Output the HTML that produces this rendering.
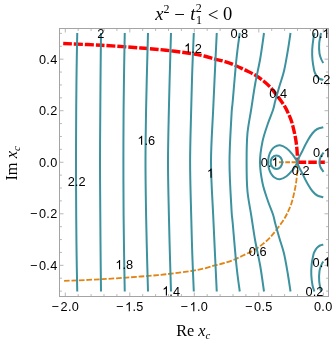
<!DOCTYPE html>
<html><head><meta charset="utf-8"><title>plot</title><style>html,body{margin:0;padding:0;background:#fff}svg{display:block;will-change:transform;transform:translateZ(0)}</style></head><body>
<svg width="332" height="345" viewBox="0 0 332 345">
<rect width="332" height="345" fill="#fff"/>
<path d="M64.10,280.95 C70.42,280.66 89.18,279.94 102.00,279.20 C114.82,278.46 130.33,277.32 141.00,276.50 C151.67,275.68 157.67,275.17 166.00,274.25 C174.33,273.33 184.67,271.96 191.00,271.00 C197.33,270.04 200.00,269.43 204.00,268.50 C208.00,267.57 211.52,266.33 215.00,265.40 C218.48,264.47 221.58,263.92 224.90,262.90 C228.22,261.88 231.58,260.68 234.90,259.30 C238.22,257.92 241.50,256.20 244.80,254.60 C248.10,253.00 251.67,251.48 254.70,249.70 C257.73,247.92 260.53,245.83 263.00,243.90 C265.47,241.97 267.67,239.93 269.50,238.10 C271.33,236.27 272.25,235.08 274.00,232.90 C275.75,230.72 278.18,227.52 280.00,225.00 C281.82,222.48 283.48,220.20 284.90,217.80 C286.32,215.40 287.42,212.98 288.50,210.60 C289.58,208.22 290.53,206.12 291.40,203.50 C292.27,200.88 292.98,197.95 293.70,194.90 C294.42,191.85 295.17,188.42 295.70,185.20 C296.23,181.98 296.60,178.80 296.90,175.60 C297.20,172.40 297.37,168.22 297.50,166.00 C297.63,163.78 297.67,162.88 297.70,162.25" fill="none" stroke="#e18414" stroke-width="1.8" stroke-dasharray="5.6 1.85"/>
<path d="M279,162.25 H297.70" fill="none" stroke="#e18414" stroke-width="1.8" stroke-dasharray="4.7 1.6"/>
<path d="M63.20,43.50 C69.67,43.80 89.03,44.55 102.00,45.30 C114.97,46.05 130.33,47.17 141.00,48.00 C151.67,48.83 157.67,49.33 166.00,50.25 C174.33,51.17 184.67,52.54 191.00,53.50 C197.33,54.46 200.00,55.07 204.00,56.00 C208.00,56.93 211.52,58.17 215.00,59.10 C218.48,60.03 221.58,60.58 224.90,61.60 C228.22,62.62 231.58,63.82 234.90,65.20 C238.22,66.58 241.50,68.30 244.80,69.90 C248.10,71.50 251.67,73.02 254.70,74.80 C257.73,76.58 260.53,78.67 263.00,80.60 C265.47,82.53 267.67,84.57 269.50,86.40 C271.33,88.23 272.25,89.42 274.00,91.60 C275.75,93.78 278.18,96.98 280.00,99.50 C281.82,102.02 283.48,104.30 284.90,106.70 C286.32,109.10 287.42,111.52 288.50,113.90 C289.58,116.28 290.53,118.38 291.40,121.00 C292.27,123.62 292.98,126.55 293.70,129.60 C294.42,132.65 295.17,136.08 295.70,139.30 C296.23,142.52 296.60,145.70 296.90,148.90 C297.20,152.10 297.37,156.28 297.50,158.50 C297.63,160.72 297.67,161.62 297.70,162.25" fill="none" stroke="#ff0000" stroke-width="3.4" stroke-dasharray="8.9 1.95"/>
<path d="M297.70,162.25 H324.9" fill="none" stroke="#ff0000" stroke-width="3.4" stroke-dasharray="8.5 2.1"/>
<g fill="none" stroke="#3c929e" stroke-width="2" stroke-linecap="butt" stroke-linejoin="round">
<path d="M77.25,33.00 C77.14,39.17 76.77,57.33 76.60,70.00 C76.42,82.67 76.30,93.62 76.20,109.00 C76.10,124.38 76.00,144.50 76.00,162.25 C76.00,180.00 76.10,200.12 76.20,215.50 C76.30,230.88 76.42,241.83 76.60,254.50 C76.77,267.17 77.14,285.33 77.25,291.50"/>
<path d="M101.00,33.00 C100.93,39.17 100.72,57.33 100.60,70.00 C100.48,82.67 100.40,93.62 100.30,109.00 C100.20,124.38 100.00,144.50 100.00,162.25 C100.00,180.00 100.20,200.12 100.30,215.50 C100.40,230.88 100.48,241.83 100.60,254.50 C100.72,267.17 100.93,285.33 101.00,291.50"/>
<path d="M124.75,33.00 C124.64,39.17 124.29,57.33 124.10,70.00 C123.91,82.67 123.72,93.62 123.60,109.00 C123.48,124.38 123.40,144.50 123.40,162.25 C123.40,180.00 123.48,200.12 123.60,215.50 C123.72,230.88 123.91,241.83 124.10,254.50 C124.29,267.17 124.64,285.33 124.75,291.50"/>
<path d="M148.00,33.00 C147.83,39.17 147.32,57.33 147.00,70.00 C146.68,82.67 146.35,93.62 146.10,109.00 C145.85,124.38 145.50,144.50 145.50,162.25 C145.50,180.00 145.85,200.12 146.10,215.50 C146.35,230.88 146.68,241.83 147.00,254.50 C147.32,267.17 147.83,285.33 148.00,291.50"/>
<path d="M171.00,33.00 C170.82,39.17 170.25,57.33 169.90,70.00 C169.55,82.67 169.22,93.62 168.90,109.00 C168.58,124.38 168.00,144.50 168.00,162.25 C168.00,180.00 168.58,200.12 168.90,215.50 C169.22,230.88 169.55,241.83 169.90,254.50 C170.25,267.17 170.82,285.33 171.00,291.50"/>
<path d="M193.80,33.00 C193.55,39.17 192.73,57.33 192.30,70.00 C191.87,82.67 191.57,93.62 191.20,109.00 C190.83,124.38 190.10,144.50 190.10,162.25 C190.10,180.00 190.83,200.12 191.20,215.50 C191.57,230.88 191.87,241.83 192.30,254.50 C192.73,267.17 193.55,285.33 193.80,291.50"/>
<path d="M216.75,33.00 C216.46,39.17 215.59,57.33 215.00,70.00 C214.41,82.67 213.87,93.62 213.20,109.00 C212.53,124.38 211.00,144.50 211.00,162.25 C211.00,180.00 212.53,200.12 213.20,215.50 C213.87,230.88 214.41,241.83 215.00,254.50 C215.59,267.17 216.46,285.33 216.75,291.50"/>
<path d="M239.75,33.00 C239.21,37.25 237.67,47.17 236.50,58.50 C235.33,69.83 233.58,91.58 232.75,101.00 C231.92,110.42 232.04,104.79 231.50,115.00 C230.96,125.21 229.50,146.50 229.50,162.25 C229.50,178.00 230.96,199.29 231.50,209.50 C232.04,219.71 231.92,214.08 232.75,223.50 C233.58,232.92 235.33,254.67 236.50,266.00 C237.67,277.33 239.21,287.25 239.75,291.50"/>
<path d="M264.00,33.00 C263.38,37.25 261.71,50.08 260.25,58.50 C258.79,66.92 256.75,75.08 255.25,83.50 C253.75,91.92 252.56,100.58 251.25,109.00 C249.94,117.42 248.18,125.12 247.40,134.00 C246.62,142.88 246.60,152.83 246.60,162.25 C246.60,171.67 246.62,181.62 247.40,190.50 C248.18,199.38 249.94,207.08 251.25,215.50 C252.56,223.92 253.75,232.58 255.25,241.00 C256.75,249.42 258.79,257.58 260.25,266.00 C261.71,274.42 263.38,287.25 264.00,291.50"/>
<path d="M290.50,33.00 C290.04,36.00 288.83,44.67 287.75,51.00 C286.67,57.33 285.38,65.17 284.00,71.00 C282.62,76.83 280.96,81.00 279.50,86.00 C278.04,91.00 276.33,97.00 275.25,101.00 C274.17,105.00 274.25,106.17 273.00,110.00 C271.75,113.83 269.50,118.75 267.75,124.00 C266.00,129.25 263.79,135.12 262.50,141.50 C261.21,147.88 260.00,155.33 260.00,162.25 C260.00,169.17 261.21,176.62 262.50,183.00 C263.79,189.38 266.00,195.25 267.75,200.50 C269.50,205.75 271.75,210.67 273.00,214.50 C274.25,218.33 274.17,219.50 275.25,223.50 C276.33,227.50 278.04,233.50 279.50,238.50 C280.96,243.50 282.62,247.67 284.00,253.50 C285.38,259.33 286.67,267.17 287.75,273.50 C288.83,279.83 290.04,288.50 290.50,291.50"/>
<path d="M297.70,162.25 C297.43,161.82 296.97,161.02 296.10,159.70 C295.23,158.38 294.10,156.21 292.50,154.30 C290.90,152.39 288.60,149.76 286.50,148.25 C284.40,146.74 281.90,145.46 279.90,145.25 C277.90,145.04 276.02,145.99 274.50,147.00 C272.98,148.01 271.77,149.68 270.80,151.30 C269.83,152.92 269.13,154.88 268.70,156.70 C268.27,158.52 268.20,160.40 268.20,162.25 C268.20,164.10 268.27,165.98 268.70,167.80 C269.13,169.62 269.83,171.58 270.80,173.20 C271.77,174.82 272.98,176.49 274.50,177.50 C276.02,178.51 277.90,179.46 279.90,179.25 C281.90,179.04 284.40,177.76 286.50,176.25 C288.60,174.74 290.90,172.11 292.50,170.20 C294.10,168.29 295.23,166.12 296.10,164.80 C296.97,163.48 297.43,162.68 297.70,162.25"/>
<path d="M323.30,127.30 C322.30,127.58 319.10,128.01 317.30,129.00 C315.50,129.99 314.10,131.33 312.50,133.25 C310.90,135.17 309.32,137.69 307.70,140.50 C306.08,143.31 304.47,146.47 302.80,150.10 C301.13,153.72 297.70,158.20 297.70,162.25 C297.70,166.30 301.13,170.78 302.80,174.40 C304.47,178.03 306.08,181.19 307.70,184.00 C309.32,186.81 310.90,189.33 312.50,191.25 C314.10,193.17 315.50,194.51 317.30,195.50 C319.10,196.49 322.30,196.92 323.30,197.20"/>
<path d="M270.60,162.25 a5.85,6.75 0 1,0 11.70,0 a5.85,6.75 0 1,0 -11.70,0Z"/>
<path d="M323.60,152.60 C323.10,153.33 321.28,155.39 320.60,157.00 C319.92,158.61 319.50,160.50 319.50,162.25 C319.50,164.00 319.92,165.89 320.60,167.50 C321.28,169.11 323.10,171.17 323.60,171.90"/>
<path d="M314.60,33.00 C314.38,34.05 313.70,36.52 313.30,39.30 C312.90,42.08 312.33,46.22 312.20,49.70 C312.07,53.18 312.20,56.87 312.50,60.20 C312.80,63.53 313.58,67.57 314.00,69.70 C314.42,71.83 314.48,71.83 315.00,73.00 C315.52,74.17 316.27,75.70 317.10,76.70 C317.93,77.70 318.97,78.47 320.00,79.00 C321.03,79.53 322.75,79.75 323.30,79.90"/>
<path d="M314.40,291.50 C314.08,290.45 313.02,287.98 312.50,285.20 C311.98,282.42 311.44,278.28 311.30,274.80 C311.16,271.32 311.30,267.63 311.65,264.30 C312.00,260.97 312.91,256.93 313.40,254.80 C313.89,252.67 314.02,252.67 314.60,251.50 C315.18,250.33 316.00,248.80 316.90,247.80 C317.80,246.80 318.93,246.03 320.00,245.50 C321.07,244.97 322.75,244.75 323.30,244.60"/>
<path d="M321.00,33.00 C320.70,34.75 319.45,40.08 319.20,43.50 C318.95,46.92 319.12,50.79 319.50,53.50 C319.88,56.21 320.87,58.17 321.50,59.75 C322.13,61.33 323.00,62.46 323.30,63.00"/>
<path d="M321.00,291.50 C320.70,289.75 319.45,284.42 319.20,281.00 C318.95,277.58 319.12,273.71 319.50,271.00 C319.88,268.29 320.87,266.33 321.50,264.75 C322.13,263.17 323.00,262.04 323.30,261.50"/>
</g>
<path d="M65.30,296.5v-4.0M65.30,28.5v4.0M78.20,296.5v-2.4M78.20,28.5v2.4M91.10,296.5v-2.4M91.10,28.5v2.4M104.00,296.5v-2.4M104.00,28.5v2.4M116.90,296.5v-2.4M116.90,28.5v2.4M129.80,296.5v-4.0M129.80,28.5v4.0M142.70,296.5v-2.4M142.70,28.5v2.4M155.60,296.5v-2.4M155.60,28.5v2.4M168.50,296.5v-2.4M168.50,28.5v2.4M181.40,296.5v-2.4M181.40,28.5v2.4M194.30,296.5v-4.0M194.30,28.5v4.0M207.20,296.5v-2.4M207.20,28.5v2.4M220.10,296.5v-2.4M220.10,28.5v2.4M233.00,296.5v-2.4M233.00,28.5v2.4M245.90,296.5v-2.4M245.90,28.5v2.4M258.80,296.5v-4.0M258.80,28.5v4.0M271.70,296.5v-2.4M271.70,28.5v2.4M284.60,296.5v-2.4M284.60,28.5v2.4M297.50,296.5v-2.4M297.50,28.5v2.4M310.40,296.5v-2.4M310.40,28.5v2.4M323.30,296.5v-4.0M323.30,28.5v4.0M59.5,291.10h2.4M328.5,291.10h-2.4M59.5,278.22h2.4M328.5,278.22h-2.4M59.5,265.33h4.0M328.5,265.33h-4.0M59.5,252.44h2.4M328.5,252.44h-2.4M59.5,239.56h2.4M328.5,239.56h-2.4M59.5,226.68h2.4M328.5,226.68h-2.4M59.5,213.79h4.0M328.5,213.79h-4.0M59.5,200.91h2.4M328.5,200.91h-2.4M59.5,188.02h2.4M328.5,188.02h-2.4M59.5,175.13h2.4M328.5,175.13h-2.4M59.5,162.25h4.0M328.5,162.25h-4.0M59.5,149.37h2.4M328.5,149.37h-2.4M59.5,136.48h2.4M328.5,136.48h-2.4M59.5,123.59h2.4M328.5,123.59h-2.4M59.5,110.71h4.0M328.5,110.71h-4.0M59.5,97.83h2.4M328.5,97.83h-2.4M59.5,84.94h2.4M328.5,84.94h-2.4M59.5,72.06h2.4M328.5,72.06h-2.4M59.5,59.17h4.0M328.5,59.17h-4.0M59.5,46.28h2.4M328.5,46.28h-2.4M59.5,33.40h2.4M328.5,33.40h-2.4" fill="none" stroke="#a4a4a4" stroke-width="0.8"/>
<rect x="59.5" y="28.5" width="269.0" height="268.0" fill="none" stroke="#a4a4a4" stroke-width="1"/>
<g font-family="Liberation Sans, sans-serif" fill="#000">
<text x="51.60" y="311.20" font-size="12.7">−</text>
<text x="60.62" y="311.20" font-size="12.7">2</text>
<text x="67.98" y="311.20" font-size="12.7">.</text>
<text x="71.81" y="311.20" font-size="12.7">0</text>
<text x="116.10" y="311.20" font-size="12.7">−</text>
<path d="M763,0H583V1147Q518,1085 412.5,1023Q307,961 223,930V1104Q374,1175 487,1276Q600,1377 647,1472H763Z" transform="translate(125.12,311.20) scale(0.00620,-0.00620)"/>
<text x="132.48" y="311.20" font-size="12.7">.</text>
<text x="136.31" y="311.20" font-size="12.7">5</text>
<text x="180.60" y="311.20" font-size="12.7">−</text>
<path d="M763,0H583V1147Q518,1085 412.5,1023Q307,961 223,930V1104Q374,1175 487,1276Q600,1377 647,1472H763Z" transform="translate(189.62,311.20) scale(0.00620,-0.00620)"/>
<text x="196.98" y="311.20" font-size="12.7">.</text>
<text x="200.81" y="311.20" font-size="12.7">0</text>
<text x="245.10" y="311.20" font-size="12.7">−</text>
<text x="254.12" y="311.20" font-size="12.7">0</text>
<text x="261.48" y="311.20" font-size="12.7">.</text>
<text x="265.31" y="311.20" font-size="12.7">5</text>
<text x="314.00" y="311.20" font-size="12.7">0</text>
<text x="321.36" y="311.20" font-size="12.7">.</text>
<text x="325.19" y="311.20" font-size="12.7">0</text>
<text x="38.95" y="63.87" font-size="12.7">0</text>
<text x="46.31" y="63.87" font-size="12.7">.</text>
<text x="50.14" y="63.87" font-size="12.7">4</text>
<text x="38.95" y="115.41" font-size="12.7">0</text>
<text x="46.31" y="115.41" font-size="12.7">.</text>
<text x="50.14" y="115.41" font-size="12.7">2</text>
<text x="38.95" y="166.95" font-size="12.7">0</text>
<text x="46.31" y="166.95" font-size="12.7">.</text>
<text x="50.14" y="166.95" font-size="12.7">0</text>
<text x="29.93" y="218.49" font-size="12.7">−</text>
<text x="38.95" y="218.49" font-size="12.7">0</text>
<text x="46.31" y="218.49" font-size="12.7">.</text>
<text x="50.14" y="218.49" font-size="12.7">2</text>
<text x="29.93" y="270.03" font-size="12.7">−</text>
<text x="38.95" y="270.03" font-size="12.7">0</text>
<text x="46.31" y="270.03" font-size="12.7">.</text>
<text x="50.14" y="270.03" font-size="12.7">4</text>
</g>
<g font-family="Liberation Sans, sans-serif" fill="#000">
<text x="97.34" y="38.25" font-size="12.8">2</text>
<path d="M763,0H583V1147Q518,1085 412.5,1023Q307,961 223,930V1104Q374,1175 487,1276Q600,1377 647,1472H763Z" transform="translate(184.10,52.55) scale(0.00625,-0.00625)"/>
<text x="191.22" y="52.55" font-size="12.8">.</text>
<text x="194.78" y="52.55" font-size="12.8">2</text>
<text x="230.40" y="37.65" font-size="12.8">0</text>
<text x="237.52" y="37.65" font-size="12.8">.</text>
<text x="241.08" y="37.65" font-size="12.8">8</text>
<text x="311.80" y="37.95" font-size="12.8">0</text>
<text x="318.92" y="37.95" font-size="12.8">.</text>
<path d="M763,0H583V1147Q518,1085 412.5,1023Q307,961 223,930V1104Q374,1175 487,1276Q600,1377 647,1472H763Z" transform="translate(322.48,37.95) scale(0.00625,-0.00625)"/>
<text x="312.60" y="83.75" font-size="12.8">0</text>
<text x="319.72" y="83.75" font-size="12.8">.</text>
<text x="323.28" y="83.75" font-size="12.8">2</text>
<text x="269.20" y="98.05" font-size="12.8">0</text>
<text x="276.32" y="98.05" font-size="12.8">.</text>
<text x="279.88" y="98.05" font-size="12.8">4</text>
<path d="M763,0H583V1147Q518,1085 412.5,1023Q307,961 223,930V1104Q374,1175 487,1276Q600,1377 647,1472H763Z" transform="translate(137.40,144.85) scale(0.00625,-0.00625)"/>
<text x="144.52" y="144.85" font-size="12.8">.</text>
<text x="148.08" y="144.85" font-size="12.8">6</text>
<path d="M763,0H583V1147Q518,1085 412.5,1023Q307,961 223,930V1104Q374,1175 487,1276Q600,1377 647,1472H763Z" transform="translate(206.84,177.75) scale(0.00625,-0.00625)"/>
<text x="67.70" y="185.75" font-size="12.8">2</text>
<text x="74.82" y="185.75" font-size="12.8">.</text>
<text x="78.38" y="185.75" font-size="12.8">2</text>
<text x="260.80" y="166.55" font-size="12.8">0</text>
<text x="267.92" y="166.55" font-size="12.8">.</text>
<path d="M763,0H583V1147Q518,1085 412.5,1023Q307,961 223,930V1104Q374,1175 487,1276Q600,1377 647,1472H763Z" transform="translate(271.48,166.55) scale(0.00625,-0.00625)"/>
<text x="291.80" y="174.75" font-size="12.8">0</text>
<text x="298.92" y="174.75" font-size="12.8">.</text>
<text x="302.48" y="174.75" font-size="12.8">2</text>
<text x="313.00" y="157.25" font-size="12.8">0</text>
<text x="320.12" y="157.25" font-size="12.8">.</text>
<path d="M763,0H583V1147Q518,1085 412.5,1023Q307,961 223,930V1104Q374,1175 487,1276Q600,1377 647,1472H763Z" transform="translate(323.68,157.25) scale(0.00625,-0.00625)"/>
<path d="M763,0H583V1147Q518,1085 412.5,1023Q307,961 223,930V1104Q374,1175 487,1276Q600,1377 647,1472H763Z" transform="translate(115.35,269.15) scale(0.00625,-0.00625)"/>
<text x="122.47" y="269.15" font-size="12.8">.</text>
<text x="126.03" y="269.15" font-size="12.8">8</text>
<path d="M763,0H583V1147Q518,1085 412.5,1023Q307,961 223,930V1104Q374,1175 487,1276Q600,1377 647,1472H763Z" transform="translate(162.20,295.55) scale(0.00625,-0.00625)"/>
<text x="169.32" y="295.55" font-size="12.8">.</text>
<text x="172.88" y="295.55" font-size="12.8">4</text>
<text x="248.85" y="256.05" font-size="12.8">0</text>
<text x="255.97" y="256.05" font-size="12.8">.</text>
<text x="259.53" y="256.05" font-size="12.8">6</text>
<text x="312.60" y="266.55" font-size="12.8">0</text>
<text x="319.72" y="266.55" font-size="12.8">.</text>
<path d="M763,0H583V1147Q518,1085 412.5,1023Q307,961 223,930V1104Q374,1175 487,1276Q600,1377 647,1472H763Z" transform="translate(323.28,266.55) scale(0.00625,-0.00625)"/>
<text x="305.60" y="295.55" font-size="12.8">0</text>
<text x="312.72" y="295.55" font-size="12.8">.</text>
<text x="316.28" y="295.55" font-size="12.8">2</text>
</g>
<g font-family="Liberation Serif, serif" fill="#000">
<text x="155.20" y="19.60" font-size="18.5" font-style="italic">x</text>
<text x="163.40" y="12.90" font-size="12">2</text>
<text x="174.20" y="20.80" font-size="19">−</text>
<text x="190.20" y="19.60" font-size="18.5" font-style="italic">t</text>
<text x="195.80" y="11.70" font-size="12">2</text>
<text x="196.00" y="23.80" font-size="12">1</text>
<text x="207.70" y="20.90" font-size="19">&lt;</text>
<text x="223.10" y="19.70" font-size="18.5">0</text>
<text x="176.3" y="336.3" font-size="16.2">Re <tspan font-style="italic">x</tspan><tspan font-style="italic" font-size="10.8" dy="3">c</tspan></text>
<text transform="translate(17.3,180.6) rotate(-90)" font-size="16.4">Im <tspan font-style="italic">x</tspan><tspan font-style="italic" font-size="10.8" dy="3">c</tspan></text>
</g>
</svg>
</body></html>
